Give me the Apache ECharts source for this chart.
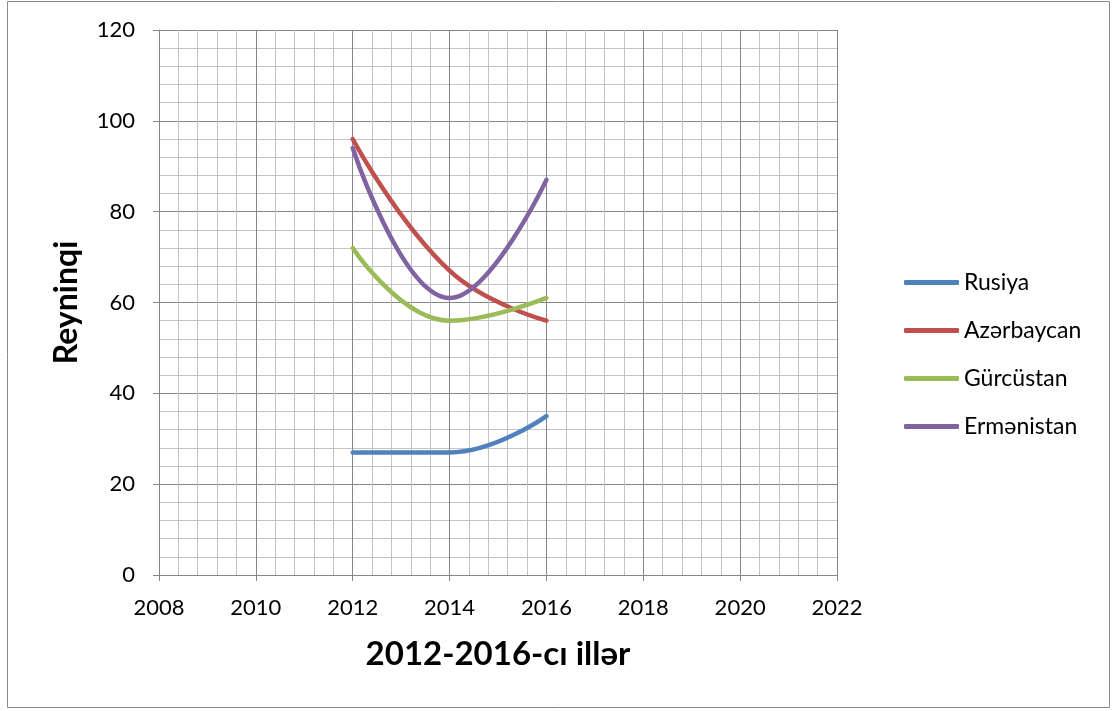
<!DOCTYPE html>
<html>
<head>
<meta charset="utf-8">
<script src="https://cdn.jsdelivr.net/npm/echarts@6/dist/echarts.min.js"></script>
<style>
  html, body { margin: 0; padding: 0; background: #fff; }
  #chart { width: 1112px; height: 711px; }
</style>
</head>
<body>
<div id="chart"></div>
<script>
// Years on the horizontal value axis
const years = [2012, 2014, 2016];

// Rating per country
const rusiya = [27, 27, 35];
const azerbaycan = [96, 67, 56];
const gurcustan = [72, 56, 61];
const ermenistan = [94, 61, 87];

const seriesNames = ['Rusiya', 'Azərbaycan', 'Gürcüstan', 'Ermənistan'];
const seriesValues = [rusiya, azerbaycan, gurcustan, ermenistan];
const seriesColors = ['#4F81BD', '#C0504D', '#9BBB59', '#8064A2'];

const FONT = 'Lato, "Open Sans", sans-serif';
const MAJOR = '#868686';
const MINOR = '#c3c3c3';

const chart = echarts.init(document.getElementById('chart'), null, { renderer: 'canvas' });

const series = seriesNames.map((name, i) => ({
  name,
  type: 'line',
  smooth: 0.45,
  symbol: 'none',
  showSymbol: false,
  data: years.map((y, j) => [y, seriesValues[i][j]]),
  lineStyle: { width: 4.5, color: seriesColors[i], cap: 'round' },
  itemStyle: { color: seriesColors[i] },
  z: 3
}));

chart.setOption({
  animation: false,
  backgroundColor: '#fff',
  graphic: [{
    type: 'rect',
    shape: { x: 7.5, y: 1.5, width: 1102, height: 706 },
    style: { fill: 'none', stroke: '#8a8a8a', lineWidth: 1 },
    silent: true
  }],
  grid: { left: 159, right: 275, top: 30, bottom: 136 },
  legend: {
    orient: 'vertical',
    left: 899,
    top: 266,
    itemGap: 25,
    itemWidth: 55,
    itemHeight: 5,
    icon: 'roundRect',
    textStyle: { fontFamily: FONT, fontSize: 23, color: '#000' },
    data: seriesNames
  },
  xAxis: {
    type: 'value',
    min: 2008,
    max: 2022,
    interval: 2,
    name: '2012-2016-cı illər',
    nameLocation: 'middle',
    nameGap: 63,
    nameTextStyle: { fontFamily: FONT, fontSize: 33, fontWeight: 'bold', color: '#000' },
    axisLine: { show: true, lineStyle: { color: MAJOR, width: 1 } },
    axisTick: { show: true, length: 6, lineStyle: { color: MAJOR } },
    axisLabel: { margin: 22, fontFamily: FONT, fontSize: 22, color: '#000', formatter: v => String(v) },
    splitLine: { show: true, lineStyle: { color: MAJOR, width: 1 } },
    minorTick: { show: false, splitNumber: 5 },
    minorSplitLine: { show: true, lineStyle: { color: MINOR, width: 1 } }
  },
  yAxis: {
    type: 'value',
    min: 0,
    max: 120,
    interval: 20,
    name: 'Reyninqi',
    nameLocation: 'middle',
    nameGap: 76,
    nameRotate: 90,
    nameTextStyle: { fontFamily: FONT, fontSize: 32, fontWeight: 'bold', color: '#000' },
    axisLine: { show: true, lineStyle: { color: MAJOR, width: 1 } },
    axisTick: { show: true, length: 6, lineStyle: { color: MAJOR } },
    axisLabel: { margin: 24, fontFamily: FONT, fontSize: 22, color: '#000' },
    splitLine: { show: true, lineStyle: { color: MAJOR, width: 1 } },
    minorTick: { show: false, splitNumber: 5 },
    minorSplitLine: { show: true, lineStyle: { color: MINOR, width: 1 } }
  },
  series
});
</script>
</body>
</html>
